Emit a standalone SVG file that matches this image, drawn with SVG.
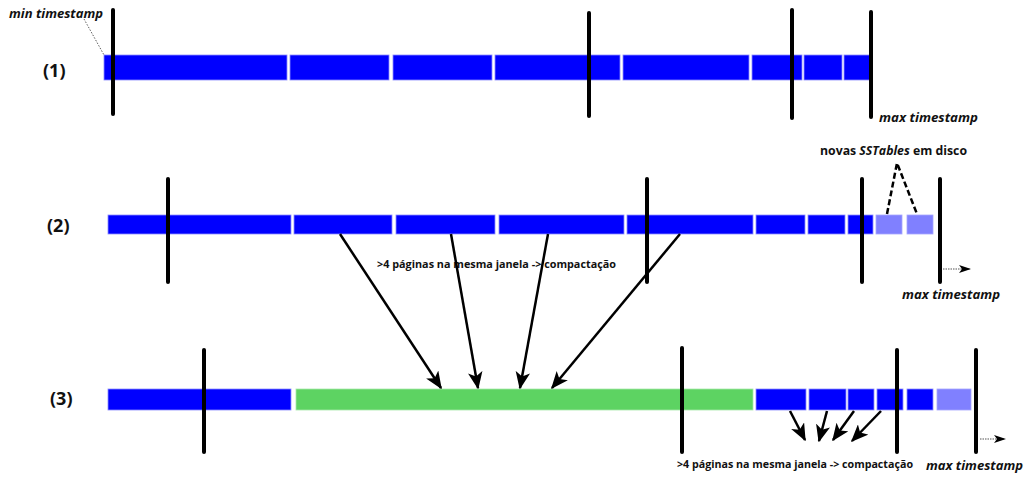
<svg xmlns="http://www.w3.org/2000/svg" width="1025" height="477" viewBox="0 0 1025 477">
  <defs>
    <style>
      .seg { fill: #0000ff; stroke: #8c8cff; stroke-width: 0.8; }
      .new { fill: #8080ff; stroke: #a6a6ff; stroke-width: 0.8; }
      .merged { fill: #5dd362; stroke: #a8e8aa; stroke-width: 0.8; }
      .mark { stroke: #000; stroke-width: 4; stroke-linecap: round; fill: none; }
      .arrow { stroke: #000; stroke-width: 2.5; fill: none; marker-end: url(#head); }
      .lbl { font-family: "Open Sans", "Liberation Sans", sans-serif; font-weight: bold; fill: #111; }
      .ts { font-family: "Open Sans", "Liberation Sans", sans-serif; font-weight: bold; font-style: italic; font-size: 13px; fill: #111; }
      .note { font-family: "Open Sans", "Liberation Sans", sans-serif; font-weight: bold; font-size: 10.5px; fill: #111; }
      .row { font-family: "Open Sans", "Liberation Sans", sans-serif; font-weight: bold; font-size: 18px; fill: #111; }
    </style>
    <marker id="head" viewBox="0 0 12 10" refX="11" refY="5" markerWidth="7" markerHeight="6" markerUnits="strokeWidth" orient="auto">
      <path d="M0,0 L12,5 L0,10 L3,5 Z" fill="#000"/>
    </marker>
    <marker id="smallhead" viewBox="0 0 12 10" refX="11" refY="5" markerWidth="12" markerHeight="10" markerUnits="userSpaceOnUse" orient="auto">
      <path d="M0,1 L12,5 L0,9 L3,5 Z" fill="#000"/>
    </marker>
  </defs>

  <!-- Row 1 -->
  <g id="row1">
    <text class="row" x="43" y="77">(1)</text>
    <rect class="seg" x="104" y="55" width="183" height="25"/>
    <rect class="seg" x="290" y="55" width="99" height="25"/>
    <rect class="seg" x="393" y="55" width="99" height="25"/>
    <rect class="seg" x="495" y="55" width="125" height="25"/>
    <rect class="seg" x="623" y="55" width="126" height="25"/>
    <rect class="seg" x="752" y="55" width="50" height="25"/>
    <rect class="seg" x="804" y="55" width="38" height="25"/>
    <rect class="seg" x="844" y="55" width="26" height="25"/>
    <line class="mark" x1="113" y1="10" x2="113" y2="114"/>
    <line class="mark" x1="589" y1="13" x2="589" y2="116"/>
    <line class="mark" x1="792" y1="10" x2="792" y2="118"/>
    <line class="mark" x1="871" y1="12" x2="871" y2="117"/>
    <text class="ts" x="9" y="18" textLength="94" lengthAdjust="spacingAndGlyphs">min timestamp</text>
    <line x1="84" y1="19" x2="104" y2="55" stroke="#333" stroke-width="0.8" stroke-dasharray="1.5,1.5"/>
    <text class="ts" x="879" y="122" textLength="99" lengthAdjust="spacingAndGlyphs">max timestamp</text>
  </g>

  <!-- Row 2 -->
  <g id="row2">
    <text class="row" x="47" y="232">(2)</text>
    <rect class="seg" x="108" y="215" width="183" height="19"/>
    <rect class="seg" x="294" y="215" width="98" height="19"/>
    <rect class="seg" x="396" y="215" width="99" height="19"/>
    <rect class="seg" x="499" y="215" width="125" height="19"/>
    <rect class="seg" x="627" y="215" width="126" height="19"/>
    <rect class="seg" x="756" y="215" width="49" height="19"/>
    <rect class="seg" x="808" y="215" width="37" height="19"/>
    <rect class="seg" x="848" y="215" width="25" height="19"/>
    <rect class="new" x="876" y="215" width="26" height="19"/>
    <rect class="new" x="907" y="215" width="26" height="19"/>
    <line class="mark" x1="168" y1="179" x2="168" y2="282"/>
    <line class="mark" x1="647" y1="179" x2="647" y2="282"/>
    <line class="mark" x1="862" y1="179" x2="862" y2="282"/>
    <line class="mark" x1="940" y1="179" x2="940" y2="282"/>
    <text class="note" x="377" y="268" textLength="239" lengthAdjust="spacingAndGlyphs">&gt;4 páginas na mesma janela -&gt; compactação</text>
    <text class="lbl" x="820" y="155" font-size="12.5" textLength="147" lengthAdjust="spacingAndGlyphs">novas <tspan font-style="italic">SSTables</tspan> em disco</text>
    <path d="M887,214 L897,163 L917,214" fill="none" stroke="#000" stroke-width="2.5" stroke-dasharray="6,3"/>
    <line x1="943" y1="269" x2="970" y2="269" stroke="#555" stroke-width="1.2" stroke-dasharray="1.5,1" marker-end="url(#smallhead)"/>
    <text class="ts" x="902" y="299" textLength="98" lengthAdjust="spacingAndGlyphs">max timestamp</text>
  </g>

  <!-- Row 3 -->
  <g id="row3">
    <text class="row" x="50" y="405">(3)</text>
    <rect class="seg" x="108" y="389" width="183" height="21"/>
    <rect class="merged" x="296" y="389" width="457" height="21"/>
    <rect class="seg" x="756" y="389" width="50" height="21"/>
    <rect class="seg" x="809" y="389" width="37" height="21"/>
    <rect class="seg" x="848" y="389" width="26" height="21"/>
    <rect class="seg" x="877" y="389" width="26" height="21"/>
    <rect class="seg" x="907" y="389" width="26" height="21"/>
    <rect class="new" x="937" y="389" width="34" height="21"/>
    <line class="mark" x1="204" y1="350" x2="204" y2="452"/>
    <line class="mark" x1="682" y1="348" x2="682" y2="452"/>
    <line class="mark" x1="897" y1="350" x2="897" y2="452"/>
    <line class="mark" x1="976" y1="350" x2="976" y2="452"/>
    <text class="note" x="677" y="468" textLength="236" lengthAdjust="spacingAndGlyphs">&gt;4 páginas na mesma janela -&gt; compactação</text>
    <line x1="980" y1="439" x2="1005" y2="439" stroke="#555" stroke-width="1.2" stroke-dasharray="1.5,1" marker-end="url(#smallhead)"/>
    <text class="ts" x="926" y="470" textLength="97" lengthAdjust="spacingAndGlyphs">max timestamp</text>
  </g>

  <!-- Compaction connectors -->
  <g id="connectors">
    <line class="arrow" x1="340" y1="234" x2="441" y2="388"/>
    <line class="arrow" x1="451" y1="234" x2="478" y2="388"/>
    <line class="arrow" x1="548" y1="234" x2="520" y2="388"/>
    <line class="arrow" x1="680" y1="234" x2="552" y2="388"/>
    <line class="arrow" x1="790" y1="411" x2="805" y2="440"/>
    <line class="arrow" x1="827" y1="411" x2="819" y2="441"/>
    <line class="arrow" x1="854" y1="411" x2="833" y2="440"/>
    <line class="arrow" x1="881" y1="411" x2="852" y2="441"/>
  </g>
</svg>
